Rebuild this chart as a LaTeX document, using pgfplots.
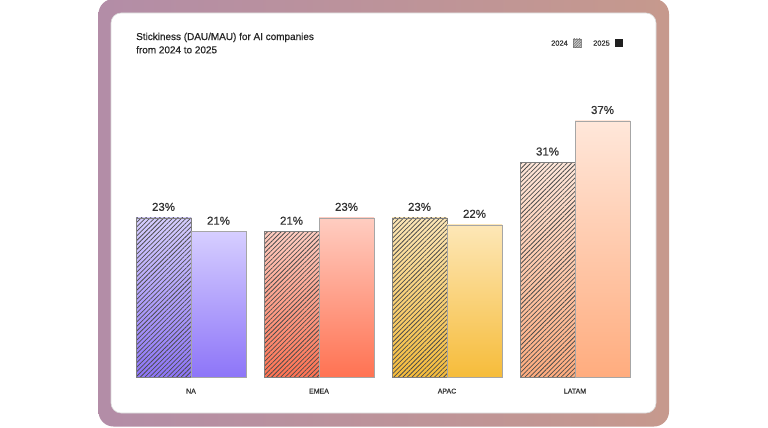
\documentclass[border=0pt]{standalone}
\usepackage{fontspec}
\setmainfont{Liberation Sans}[FakeBold=0.6]
\newfontfamily\med{Liberation Sans}[FakeBold=0.6]
\usepackage{pgfplots}
\pgfplotsset{compat=1.18}
\usetikzlibrary{patterns.meta}

\definecolor{frameL}{HTML}{B38DA7}
\definecolor{frameR}{HTML}{C6998D}
\definecolor{naT}{HTML}{D6CEFF}
\definecolor{naB}{HTML}{8D75F8}
\definecolor{emT}{HTML}{FFCDC1}
\definecolor{emB}{HTML}{FF7252}
\definecolor{apT}{HTML}{FDE7B7}
\definecolor{apB}{HTML}{F6BC3A}
\definecolor{laT}{HTML}{FFE7DA}
\definecolor{laB}{HTML}{FFAC7E}
\definecolor{txt}{HTML}{262626}
\definecolor{lbl}{HTML}{333333}

\pgfplotsset{
  bar/.style={ybar, forget plot, bar width=55bp, bar shift=0pt,
    draw=black!35, line width=0.5bp,
    nodes near coords={\pgfmathprintnumber{\pgfplotspointmeta}\%},
    every node near coord/.append style={font=\med\fontsize{11.5}{12}\selectfont, text=lbl, anchor=base, inner sep=0pt, yshift=7bp}},
  hatch/.style={ybar, forget plot, bar width=55bp, bar shift=0pt,
    draw=black!50, line width=0.5bp, fill=none,
    pattern={Lines[angle=45,distance=3.2bp,line width=0.75bp]}, pattern color=black!70},
}

\begin{document}
\begin{tikzpicture}[x=1bp,y=1bp]
\useasboundingbox (0,0) rectangle (768,427);
\fill[white] (0,0) rectangle (768,427);
\shade[left color=frameL, right color=frameR, rounded corners=15bp] (98.5,0.5) rectangle (669,428);
\fill[white, draw=black!15, line width=0.6bp, rounded corners=10bp] (111,14) rectangle (656,414);

\node[anchor=base west, inner sep=0pt, text=txt, font=\med\fontsize{10}{12}\selectfont] at (136,387) {Stickiness (DAU/MAU) for AI companies};
\node[anchor=base west, inner sep=0pt, text=txt, font=\med\fontsize{10}{12}\selectfont] at (136,373.7) {from 2024 to 2025};

% legend
\node[anchor=base east, inner sep=0pt, text=lbl, font=\med\fontsize{7.5}{9}\selectfont] at (568,381.3) {2024};
\filldraw[fill=black!20, draw=black!45, line width=0.4bp] (573,380) rectangle (581,388);
\fill[pattern={Lines[angle=45,distance=1.8bp,line width=0.5bp]}, pattern color=black!60] (573,380) rectangle (581,388);
\node[anchor=base east, inner sep=0pt, text=lbl, font=\med\fontsize{7.5}{9}\selectfont] at (610,381.3) {2025};
\fill[black!88] (615,380) rectangle (623,388);

\begin{axis}[
  at={(127bp,50bp)}, anchor=south west,
  scale only axis, width=512bp, height=276.8bp,
  xmin=-0.5, xmax=3.5, ymin=0, ymax=40,
  axis line style={draw=none}, major tick length=0pt,
  ytick=\empty, xtick={0,1,2,3}, xticklabels={NA,EMEA,APAC,LATAM},
  xticklabel style={font=\med\fontsize{7}{8}\selectfont, text=lbl, anchor=base, inner sep=0pt, yshift=-16.5bp},
  /pgf/number format/assume math mode=true,
  clip=false,
]
\addplot[bar, top color=naT, bottom color=naB] coordinates {(-0.2148,23)};
\addplot[hatch] coordinates {(-0.2148,23)};
\addplot[bar, top color=naT, bottom color=naB] coordinates {(0.2148,21)};
\addplot[bar, top color=emT, bottom color=emB] coordinates {(0.7852,21)};
\addplot[hatch] coordinates {(0.7852,21)};
\addplot[bar, top color=emT, bottom color=emB] coordinates {(1.2148,23)};
\addplot[bar, top color=apT, bottom color=apB] coordinates {(1.7852,23)};
\addplot[hatch] coordinates {(1.7852,23)};
\addplot[bar, top color=apT, bottom color=apB] coordinates {(2.2148,22)};
\addplot[bar, top color=laT, bottom color=laB] coordinates {(2.7852,31)};
\addplot[hatch] coordinates {(2.7852,31)};
\addplot[bar, top color=laT, bottom color=laB] coordinates {(3.2148,37)};
\end{axis}
\end{tikzpicture}
\end{document}
